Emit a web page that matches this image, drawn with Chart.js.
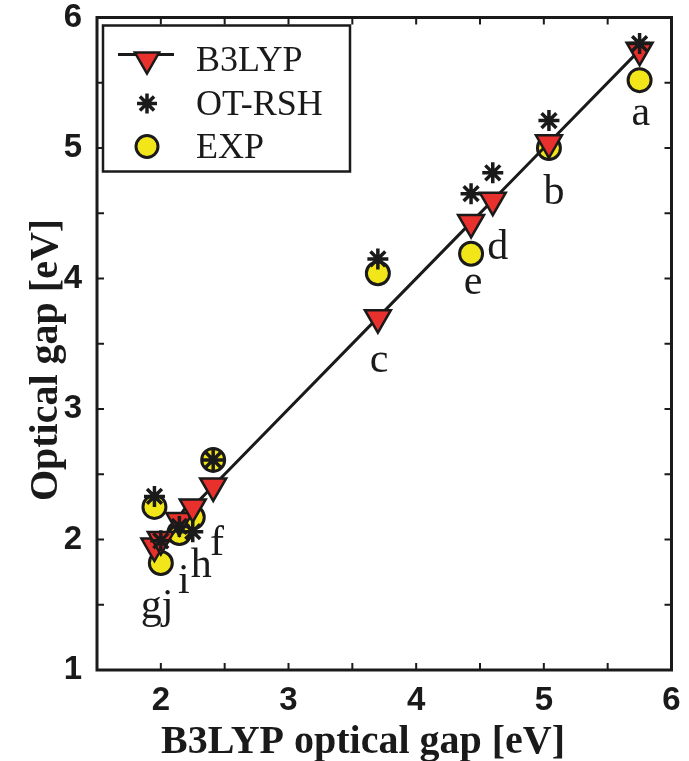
<!DOCTYPE html>
<html><head><meta charset="utf-8">
<script src="https://cdn.jsdelivr.net/npm/chart.js@4.4.1/dist/chart.umd.min.js"></script>
<style>html,body{margin:0;padding:0;background:#fff}#wrap{width:689px;height:761px;position:relative}canvas{display:block}</style>
</head><body><div id="wrap"><canvas id="c" width="689" height="761" style="width:689px;height:761px"></canvas></div>
<script>
// ---- data ----
const systems   = ['a','b','c','d','e','f','h','i','g','j'];
const b3lypGap  = [5.75, 5.04, 3.70, 4.60, 4.43, 2.41, 2.25, 2.145, 1.95, 2.00];
const otrshGap  = [5.80, 5.21, 4.15, 4.81, 4.65, 2.61, 2.06, 2.10, 2.33, 1.99];
const expGap    = [5.52, 5.00, 4.04, null, 4.19, 2.61, 2.17, 2.05, 2.25, 1.82];
const annText   = ['a','b','c','d','e','f','h','i','gj'];
const annX      = [5.76, 5.08, 3.71, 4.64, 4.445, 2.44, 2.316, 2.18, 1.97];
const annY      = [5.18, 4.57, 3.28, 4.15, 3.88, 1.88, 1.71, 1.59, 1.40];
const xTickLabels = [2,3,4,5,6];
const yTickLabels = [1,2,3,4,5,6];
const seriesNames = ['B3LYP','OT-RSH','EXP'];
const xTitle = 'B3LYP optical gap [eV]';
const yTitle = 'Optical gap [eV]';

const INK = '#1a1a1a';
const RED = '#e8302c';
const YEL = '#f2e61a';

const b3Pts = b3lypGap.map(x => ({x, y: x})).sort((p, q) => p.x - q.x);
const otPts = b3lypGap.map((x, i) => ({x, y: otrshGap[i]}));
const exPts = b3lypGap.map((x, i) => ({x, y: expGap[i]})).filter(p => p.y !== null);

function drawTri(ctx, x, y, r){
  ctx.beginPath();
  ctx.moveTo(x, y + r);
  ctx.lineTo(x - r*Math.cos(Math.PI/6), y - r/2);
  ctx.lineTo(x + r*Math.cos(Math.PI/6), y - r/2);
  ctx.closePath();
  ctx.fillStyle = RED; ctx.fill();
  ctx.lineWidth = 2.5; ctx.strokeStyle = INK; ctx.stroke();
}
function drawStar(ctx, x, y, r){
  ctx.beginPath();
  const d = r*Math.cos(Math.PI/4);
  ctx.moveTo(x, y-r); ctx.lineTo(x, y+r);
  ctx.moveTo(x-r, y); ctx.lineTo(x+r, y);
  ctx.moveTo(x-d, y-d); ctx.lineTo(x+d, y+d);
  ctx.moveTo(x-d, y+d); ctx.lineTo(x+d, y-d);
  ctx.lineWidth = 3.5; ctx.strokeStyle = INK; ctx.stroke();
}
function drawCirc(ctx, x, y, r){
  ctx.beginPath(); ctx.arc(x, y, r, 0, Math.PI*2);
  ctx.fillStyle = YEL; ctx.fill();
  ctx.lineWidth = 3; ctx.strokeStyle = INK; ctx.stroke();
}

const decor = {
  id: 'decor',
  afterDatasetsDraw(chart){
    const ctx = chart.ctx, xs = chart.scales.x, ys = chart.scales.y;
    ctx.save();
    ctx.fillStyle = INK;
    ctx.font = '42px "Liberation Serif", "Times New Roman", serif';
    ctx.textAlign = 'center'; ctx.textBaseline = 'alphabetic';
    annText.forEach((t, i) => ctx.fillText(t, xs.getPixelForValue(annX[i]), ys.getPixelForValue(annY[i])));
    ctx.restore();
  },
  afterDraw(chart){
    const ctx = chart.ctx, a = chart.chartArea, xs = chart.scales.x, ys = chart.scales.y;
    ctx.save();
    // frame
    ctx.strokeStyle = INK; ctx.lineWidth = 3;
    ctx.strokeRect(a.left, a.top, a.right - a.left, a.bottom - a.top);
    // inward ticks
    ctx.lineWidth = 2;
    const tl = 7;
    ctx.beginPath();
    for (let v = 2; v < 6; v += 0.5){
      const px = xs.getPixelForValue(v);
      ctx.moveTo(px, a.bottom); ctx.lineTo(px, a.bottom - tl);
      ctx.moveTo(px, a.top); ctx.lineTo(px, a.top + tl);
    }
    for (let v = 1.5; v < 6; v += 0.5){
      const py = ys.getPixelForValue(v);
      ctx.moveTo(a.left, py); ctx.lineTo(a.left + tl, py);
      ctx.moveTo(a.right, py); ctx.lineTo(a.right - tl, py);
    }
    ctx.stroke();
    // legend
    const lx = a.left + 6, ly = a.top + 8, lw = 247, lh = 146;
    ctx.fillStyle = '#fff';
    ctx.fillRect(lx, ly, lw, lh);
    ctx.lineWidth = 2.5; ctx.strokeStyle = INK;
    ctx.strokeRect(lx, ly, lw, lh);
    const mx = lx + 44, tx = lx + 93;
    const rows = [ly + 34, ly + 78, ly + 121];
    ctx.beginPath(); ctx.moveTo(lx + 15, rows[0] - 5); ctx.lineTo(lx + 71, rows[0] - 5);
    ctx.lineWidth = 3; ctx.strokeStyle = INK; ctx.stroke();
    drawTri(ctx, mx, rows[0], 14);
    drawStar(ctx, mx, rows[1], 10);
    drawCirc(ctx, mx, rows[2], 11);
    ctx.fillStyle = INK;
    ctx.font = '36px "Liberation Serif", "Times New Roman", serif';
    ctx.textAlign = 'left'; ctx.textBaseline = 'middle';
    seriesNames.forEach((s, i) => ctx.fillText(s, tx, rows[i] + 2));
    // axis titles
    ctx.font = 'bold 40px "Liberation Serif", "Times New Roman", serif';
    ctx.textAlign = 'center'; ctx.textBaseline = 'alphabetic';
    ctx.fillText(xTitle, 363, 753);
    ctx.translate(57, 360);
    ctx.rotate(-Math.PI/2);
    ctx.fillText(yTitle, 0, 0);
    ctx.restore();
  }
};

const tickFont = {family: '"Liberation Sans", Arial, sans-serif', size: 33, weight: 'bold'};

new Chart(document.getElementById('c'), {
  type: 'scatter',
  data: {
    datasets: [
      {label: seriesNames[1], data: otPts, order: 0,
       pointStyle: 'star', pointRadius: 10.5, pointHoverRadius: 10.5, pointBorderWidth: 3.5,
       pointBorderColor: INK, pointBackgroundColor: INK, showLine: false},
      {label: seriesNames[0], data: b3Pts, order: 1, showLine: true,
       borderColor: INK, borderWidth: 3, fill: false,
       pointStyle: 'triangle', pointRotation: 180, pointRadius: 15, pointHoverRadius: 15,
       pointBackgroundColor: RED, pointBorderColor: INK, pointBorderWidth: 2.5},
      {label: seriesNames[2], data: exPts, order: 2, showLine: false,
       pointStyle: 'circle', pointRadius: 11.5, pointHoverRadius: 11.5,
       pointBackgroundColor: YEL, pointBorderColor: INK, pointBorderWidth: 3}
    ]
  },
  options: {
    responsive: false, animation: false, devicePixelRatio: 1,
    layout: {padding: {top: 16, right: 13, left: 0, bottom: 0}},
    plugins: {legend: {display: false}, tooltip: {enabled: false}},
    events: [],
    scales: {
      x: {type: 'linear', min: 1.5, max: 6,
          grid: {display: false}, border: {display: false},
          ticks: {stepSize: 0.5, autoSkip: false, maxRotation: 0, padding: 3,
                  color: INK, font: tickFont,
                  callback: v => xTickLabels.includes(v) ? String(v) : ''},
          afterFit: s => { s.height = 91; s.paddingLeft = 0; s.paddingRight = 0; }},
      y: {type: 'linear', min: 1, max: 6,
          grid: {display: false}, border: {display: false},
          ticks: {stepSize: 0.5, autoSkip: false, padding: 7,
                  color: INK, font: tickFont,
                  callback: v => yTickLabels.includes(v) ? String(v) : ''},
          afterFit: s => { s.width = 97; s.paddingTop = 0; s.paddingBottom = 0; }}
    }
  },
  plugins: [decor]
});
</script></body></html>
